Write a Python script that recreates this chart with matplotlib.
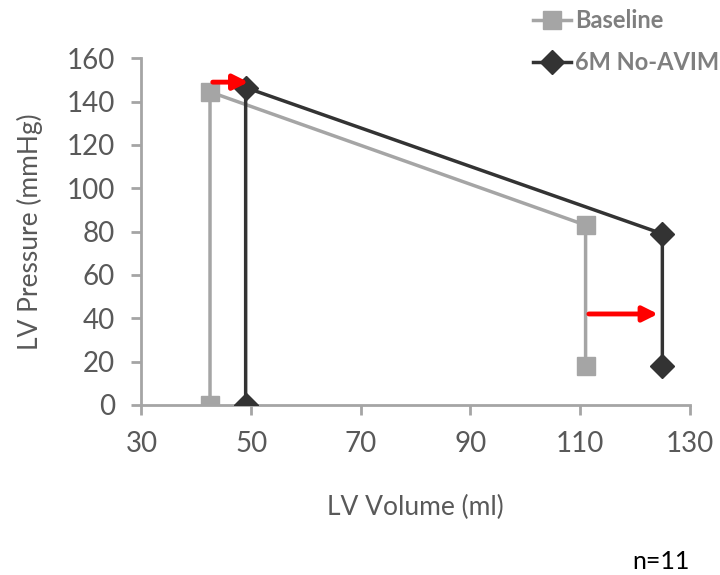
import matplotlib
matplotlib.use("Agg")
import matplotlib.pyplot as plt
from matplotlib.lines import Line2D

plt.rcParams['font.family'] = ['Lato', 'DejaVu Sans']

# pressure-volume loops
base_vol = [111, 111, 42.5, 42.5]
base_pres = [18, 83, 144.5, 0]
avim_vol = [125, 125, 49, 49]
avim_pres = [18, 79, 146.5, 0]

# shift arrows (start volume, end volume, pressure)
arrow_top = (43.0, 49.5, 149)
arrow_right = (111.6, 124.2, 42)

xticks = [30, 50, 70, 90, 110, 130]
yticks = [0, 20, 40, 60, 80, 100, 120, 140, 160]

grey = "#A5A5A5"
dark = "#333333"
txt = "#595959"

fig = plt.figure(figsize=(7.2, 5.75), dpi=100)
ax = fig.add_axes([0.1965, 0.2957, 0.7615, 0.6029])

ax.plot(base_vol, base_pres, color=grey, lw=2.5, marker="s", ms=13,
        mec=grey, mfc=grey, zorder=3)
ax.plot(avim_vol, avim_pres, color=dark, lw=2.5, marker="D", ms=12,
        mec=dark, mfc=dark, zorder=4)

for x0, x1, y in [arrow_top, arrow_right]:
    ax.annotate("", xy=(x1, y), xytext=(x0, y),
                arrowprops=dict(arrowstyle="-|>,head_length=0.9,head_width=0.45",
                                color="#FF0000", lw=3.5, shrinkA=0, shrinkB=0),
                zorder=5)

ax.set_xlim(30, 130)
ax.set_ylim(0, 160)
ax.set_xticks(xticks)
ax.set_yticks(yticks)
for s in ["top", "right"]:
    ax.spines[s].set_visible(False)
for s in ["left", "bottom"]:
    ax.spines[s].set_color(grey)
    ax.spines[s].set_linewidth(2)
ax.tick_params(colors=grey, width=2, length=7, labelcolor=txt, labelsize=20,
               pad=12)
ax.set_xlabel("LV Volume (ml)", fontsize=19, color=txt, labelpad=27)
ax.set_ylabel("LV Pressure (mmHg)", fontsize=19, color=txt, labelpad=17)

handles = [Line2D([], [], color=grey, lw=2.5, marker="s", ms=13),
           Line2D([], [], color=dark, lw=2.5, marker="D", ms=12)]
leg = fig.legend(handles, ["Baseline", "6M No-AVIM"], loc="upper left",
                 bbox_to_anchor=(0.727, 1.0), frameon=False, handlelength=1.6,
                 handletextpad=0.2, labelspacing=0.8, borderaxespad=0,
                 prop=dict(family="Lato", weight="bold", size=17))
for t in leg.get_texts():
    t.set_color("#7F7F7F")

fig.text(0.958, 0.01, "n=11", fontsize=18, color="black", ha="right")

fig.savefig("out.png", dpi=100)
